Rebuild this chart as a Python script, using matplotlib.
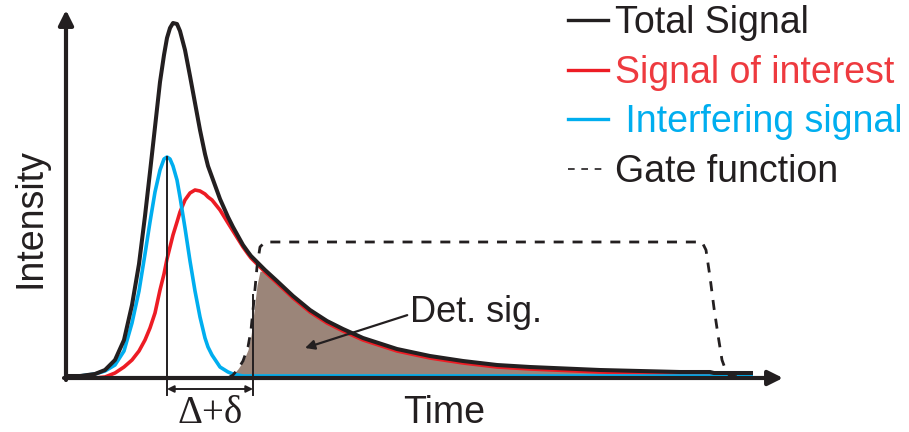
import numpy as np
import matplotlib
matplotlib.use("Agg")
import matplotlib.pyplot as plt
from matplotlib.lines import Line2D

# Time grid (arbitrary units) shared by every trace
time = [0, 14, 29, 39, 49, 58, 66, 73, 79, 84, 89, 94, 98, 101, 104, 107, 111,
        114, 119, 124, 129, 134, 139, 142, 146, 154, 162, 167, 172, 177, 182,
        185, 188, 191, 194, 199, 211, 227, 244, 261, 277, 297, 331, 364, 397,
        431, 464, 534, 614, 636, 640, 644, 648, 652, 656, 660, 664, 687]

# Interfering (fast) component
interfering = [2, 2, 4, 7, 13, 27, 55, 87, 124, 156, 186, 208, 219, 221, 219,
               212, 198, 181, 150, 117, 87, 61, 40, 31, 23, 11, 6, 4, 3, 2, 2,
               2, 2, 2, 2, 2, 2, 2, 2, 2, 2, 2, 2, 2, 2, 2,
               2, 2, 2, 2, 2, 2, 2, 2, 2, 2, 2, 2]

# Signal of interest (slow, long-lived component)
interest = [0, 0, 0, 1, 5, 11, 18, 27, 38, 50, 65, 88, 104, 119, 131, 143,
            156, 166, 178, 185, 188, 187, 184, 181, 178, 168, 155, 147, 139,
            131, 124, 120, 117, 114, 111, 106, 95, 80, 66, 55, 47, 38, 27, 20,
            15, 11, 9, 6, 4, 4, 4, 4, 3, 3, 3, 3, 3, 3]

# Detection gate
gate = [0, 0, 0, 0, 0, 0, 0, 0, 0, 0, 0, 0, 0, 0, 0, 0, 0, 0, 0, 0, 0, 0, 0,
        0, 0, 0, 0, 3, 9, 17, 31, 48, 78, 111, 131, 136, 136, 136, 136, 136,
        136, 136, 136, 136, 136, 136, 136, 136, 136, 136, 128, 101, 70, 43,
        18, 7, 2, 0]

gate_open = 187          # start of the detection window
legend_labels = ["Total Signal", "Signal of interest", " Interfering signal",
                 "Gate function"]

t = np.array(time, dtype=float)
blue = np.array(interfering, dtype=float)
red = np.array(interest, dtype=float)
g = np.array(gate, dtype=float)
total = blue + red
detected = red * g / g.max()

C_RED = "#ed1c24"
C_BLUE = "#00aeef"
C_FILL = "#9b8579"
C_BLACK = "#231f20"

plt.rcParams["font.family"] = ["Liberation Sans", "DejaVu Sans"]

fig = plt.figure(figsize=(9.09, 4.32), dpi=100)
ax = fig.add_axes([0, 0, 1, 1])
ax.set_xlim(-66, 843)
ax.set_ylim(-54, 378)
ax.axis("off")

# Gated (detected) signal
ax.fill_between(t, 0, detected, color=C_FILL, lw=0, zorder=1)

# Signal traces
line_kw = dict(solid_joinstyle="round", solid_capstyle="butt")
ax.plot(t, red, color=C_RED, lw=2.6, zorder=2, **line_kw)
ax.plot(t, blue, color=C_BLUE, lw=2.6, zorder=3, **line_kw)
ax.plot(t, total, color=C_BLACK, lw=2.9, zorder=4, **line_kw)

# Gate function (only where it departs from the baseline)
start = int(np.argmax(g > 0)) - 1
ax.plot(t[start:], g[start:], color=C_BLACK, lw=2.0, dashes=(3.6, 3.2),
        zorder=5)

# Axes with arrowheads
arrow_kw = dict(arrowstyle="-|>", color=C_BLACK, lw=3.0, mutation_scale=22,
                shrinkA=0, shrinkB=0)
ax.annotate("", xy=(0, 368), xytext=(0, -2), arrowprops=arrow_kw, zorder=6)
ax.annotate("", xy=(717, 0), xytext=(-2, 0), arrowprops=arrow_kw, zorder=6)

ax.text(-35, 160, "Intensity", rotation=90, ha="center", va="center",
        fontsize=27, color=C_BLACK)
ax.text(378, -45, "Time", ha="center", va="baseline", fontsize=27,
        color=C_BLACK)

# Delay marker between interfering peak and gate opening
t_peak = t[int(np.argmax(blue))]
ax.plot([t_peak, t_peak], [blue.max(), -17], color=C_BLACK, lw=1.4, zorder=7)
ax.plot([gate_open, gate_open], [83, -17], color=C_BLACK, lw=1.4, zorder=7)
ax.annotate("", xy=(gate_open, -11), xytext=(t_peak, -11),
            arrowprops=dict(arrowstyle="<|-|>", color=C_BLACK, lw=1.4,
                            mutation_scale=10, shrinkA=0, shrinkB=0))
ax.text((t_peak + gate_open) / 2, -45, "Δ+δ", ha="center", va="baseline",
        fontsize=28, family=["Liberation Serif", "DejaVu Serif"],
        color=C_BLACK)

# Label for the detected area
ax.annotate("Det. sig.", xy=(239, 30), xytext=(344, 56), ha="left",
            va="baseline", fontsize=26, color=C_BLACK,
            arrowprops=dict(arrowstyle="-|>", color=C_BLACK, lw=1.6,
                            mutation_scale=14, shrinkA=0, shrinkB=0,
                            relpos=(0.0, 0.45)))

# Legend
handles = [
    Line2D([], [], color=C_BLACK, lw=2.4),
    Line2D([], [], color=C_RED, lw=2.4),
    Line2D([], [], color=C_BLUE, lw=2.4),
    Line2D([], [], color=C_BLACK, lw=1.2, dashes=(4, 4)),
]
ax.legend(handles, legend_labels, loc="upper right",
          bbox_to_anchor=(0.993, 0.988), frameon=False, fontsize=27,
          handlelength=1.05, handletextpad=0.2, labelspacing=0.36,
          borderpad=0, borderaxespad=0,
          labelcolor=[C_BLACK, "#ee3a3f", C_BLUE, C_BLACK])

fig.savefig("out.png", dpi=100)
